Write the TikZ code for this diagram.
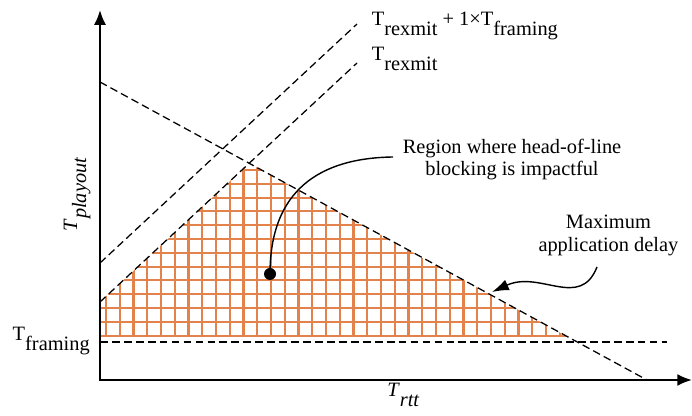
\documentclass[tikz,border=0pt]{standalone}
\usepackage{fontspec}
\setmainfont{Liberation Serif}
\usepackage{tikz}
\usetikzlibrary{arrows.meta, positioning, calc}
\definecolor{hatchorange}{HTML}{E4824C}
\newcommand{\lowsub}[1]{\raisebox{-6.5pt}{#1}}

\begin{document}
\begin{tikzpicture}[every node/.style={font=\fontsize{14.5}{16}\selectfont, inner sep=0pt},
    axis/.style={line width=1.4pt, {Latex[length=10.5pt,width=8.5pt]}-{Latex[length=10.5pt,width=8.5pt]}},
    limit/.style={line width=0.9pt, dash pattern=on 5.5pt off 3pt},
    hatch/.style={hatchorange, line width=1.5pt},
    callout/.style={line width=1pt}]
  \useasboundingbox (-2.5,-0.9) rectangle (14.8,9.5);
  \coordinate (O) at (0,0);
  % the hatched region
  \begin{scope}
    \clip (0,1.075) -- (0,1.95) -- (3.729,5.418) -- (11.70,1.075) -- cycle;
    \foreach \k in {0,...,34}
      \draw[hatch] (0.15+\k*0.34375,0) -- ++(0,6);
    \foreach \k in {0,...,13}
      \draw[hatch] (0,1.11+\k*0.345) -- ++(12,0);
  \end{scope}
  % the limits
  \draw[limit] (0,7.45) -- (13.675,0);
  \draw[limit] (0,1.95) -- (6.425,7.925);
  \draw[limit] (0,2.925) -- (6.425,8.9);
  \draw[limit] (0,0.95) -- (14.175,0.95);
  % axes
  \draw[axis] (0,9.25) -- (O) -- (14.8,0);
  \node[rotate=90, anchor=base] (playout) at (-0.575,4.64) {\textit{T}\lowsub{\textit{playout}}};
  \node[anchor=base west] (rtt) at (7.175,-0.425) {\textit{T}\lowsub{\textit{rtt}}};
  \node[anchor=base east] (framing) at (-0.25,0.975) {T\lowsub{framing}};
  \node[anchor=base west] (rexfr) at (6.79,8.85) {T\lowsub{rexmit} + 1×T\lowsub{framing}};
  \node[anchor=base west] (rex) at (6.79,7.975) {T\lowsub{rexmit}};
  % callouts
  \node[anchor=north, align=center] (region) at (10.3,6.03) {Region where head-of-line\\blocking is impactful};
  \node[anchor=north, align=center] (maxdelay) at (12.71,4.12) {Maximum\\application delay};
  \node[circle, fill, minimum size=0.3cm] (dot) at (4.25,2.65) {};
  \coordinate (regtip) at (7.325,5.575);
  \draw[callout] (dot.center) .. controls +(0,2.1) and +(-1.825,-0.025) .. (regtip);
  \coordinate (maxfrom) at (12.425,2.825);
  \coordinate (maxto) at (9.8,2.2);
  \draw[callout, -{Latex[length=12pt,width=8pt]}] (maxfrom) .. controls +(-0.425,-1.075) and +(1.2,0.55) .. (maxto);
\end{tikzpicture}
\end{document}
